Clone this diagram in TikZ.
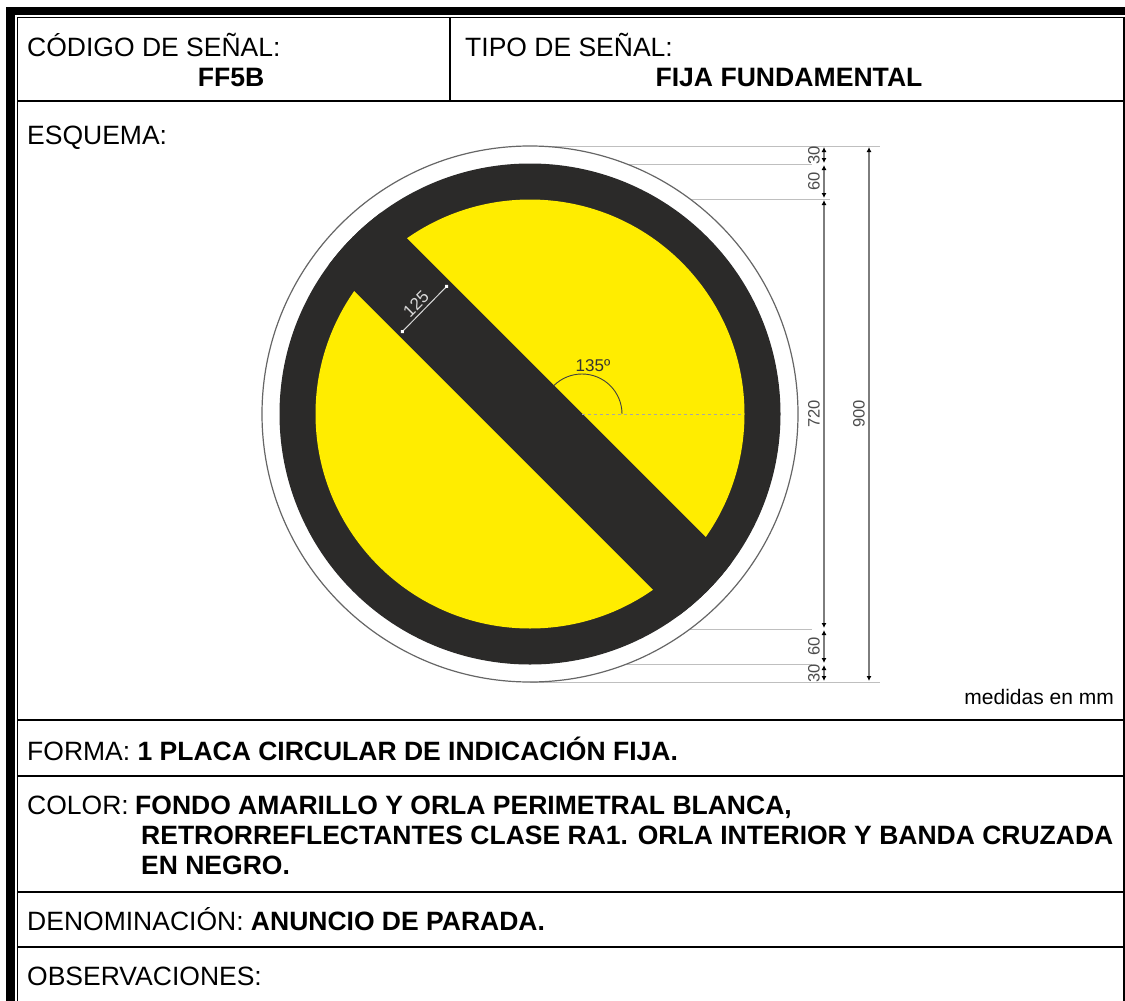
\documentclass[tikz,border=0pt]{standalone}
\usepackage{fontspec}
\setmainfont{Liberation Sans}
\usetikzlibrary{arrows.meta}
\definecolor{signyellow}{RGB}{255,237,0}
\definecolor{signblack}{RGB}{43,42,41}
\definecolor{dimgray}{RGB}{125,125,125}
\begin{document}
\begin{tikzpicture}[x=1pt,y=-1pt,
    rowtext/.style={anchor=base west,inner sep=0pt,font=\fontsize{26.5}{26.5}\selectfont},
    boldtext/.style={anchor=base,inner sep=0pt,font=\fontsize{26.6}{26.6}\selectfont\bfseries},
    dimtext/.style={rotate=90,inner sep=0pt,text=black!70,font=\fontsize{16.5}{16.5}\selectfont},
    dimline/.style={dimgray,line width=1.3pt,{Latex[black,length=5pt,width=5pt]}-{Latex[black,length=5pt,width=5pt]}}]
        \useasboundingbox (0,0) rectangle (1125,1001);
        \fill[white] (0,0) rectangle (1125,1001);
        % frame
        \fill (6,7) rectangle (1125,15);
        \fill (6,7) rectangle (15,1001);
        \draw[line width=1.5pt] (17.5,1001) -- (17.5,17.5) -- (1124,17.5) -- (1124,1001);
        \foreach \y in {101,720,776,892,947} {
          \draw[line width=1.5pt] (17.5,\y) -- (1124,\y);
        }
        \draw[line width=1.5pt] (450,17.5) -- (450,101);
        % sign
        \foreach \y/\xb in {146/880, 164/812, 199/830, 629/812, 664/812, 682/880} {
          \draw[black!25,line width=1pt] (530,\y) -- (\xb,\y);
        }
        \draw[fill=white,draw=black!60,line width=1.2pt] (530,414) circle (268);
        \fill[signblack] (530,414) circle (250.5);
        \fill[signyellow] (530,414) circle (214.5);
        \begin{scope}
          \clip (530,414) circle (250.5);
          \fill[signblack] (530,414) ++(-300,-300) ++(26.3,-26.3) -- ++(600,600) -- ++(-52.6,52.6) -- ++(-600,-600) -- cycle;
        \end{scope}
        % angle mark
        \draw[dashed,black!35,line width=0.8pt] (582,414) -- (744,414);
        \draw[black!75,line width=0.9pt] (622,414) arc (0:-135:40);
        \node[inner sep=0pt,text=black!80,font=\fontsize{17}{17}\selectfont] (angle) at (593,366) {135º};
        % bar width
        \draw[white!85!black,line width=1pt,{Circle[white,length=4pt]}-{Circle[white,length=4pt]}] (401,333) -- (448,285);
        \node[rotate=45,inner sep=0pt,text=white!85!black,font=\fontsize{17}{17}\selectfont] (barwidth) at (416,304) {125};
        % dimensions
        \foreach \ya/\yb in {146/164, 164/199, 199/629, 629/664, 664/682} {
          \draw[dimline] (824,\ya+1) -- (824,\yb-1);
        }
        \draw[dimline] (869,147) -- (869,681);
        \foreach \x/\y/\t in {814/155/30, 814/181/60, 814/414/720, 859/414/900, 814/646/60, 814/673/30} {
          \node[dimtext] at (\x,\y) {\t};
        }
        % texts
        \foreach \x/\y/\t in {27/56/CÓDIGO DE SEÑAL:, 465/56/TIPO DE SEÑAL:, 27/144/ESQUEMA:, 27/985/OBSERVACIONES:} {
          \node[rowtext] at (\x,\y) {\t};
        }
        \node[boldtext] (code) at (231,86) {FF5B};
        \node[boldtext] (kind) at (789,86) {FIJA FUNDAMENTAL};
        \node[inner sep=0pt,anchor=base east,font=\fontsize{21}{21}\selectfont] (units) at (1114,704) {medidas en mm};
        \node[rowtext] (shape) at (27,760) {FORMA: \textbf{1 PLACA CIRCULAR DE INDICACIÓN FIJA.}};
        \node[rowtext] (colour) at (27,814) {COLOR:};
        \node[rowtext] (colour1) at (135,814) {\textbf{FONDO AMARILLO Y ORLA PERIMETRAL BLANCA,}};
        \node[rowtext] (colour2) at (141,844) {\textbf{RETRORREFLECTANTES CLASE RA1. ORLA INTERIOR Y BANDA CRUZADA}};
        \node[rowtext] (colour3) at (141,874) {\textbf{EN NEGRO.}};
        \node[rowtext] (name) at (27,930) {DENOMINACIÓN: \textbf{ANUNCIO DE PARADA.}};
\end{tikzpicture}
\end{document}
